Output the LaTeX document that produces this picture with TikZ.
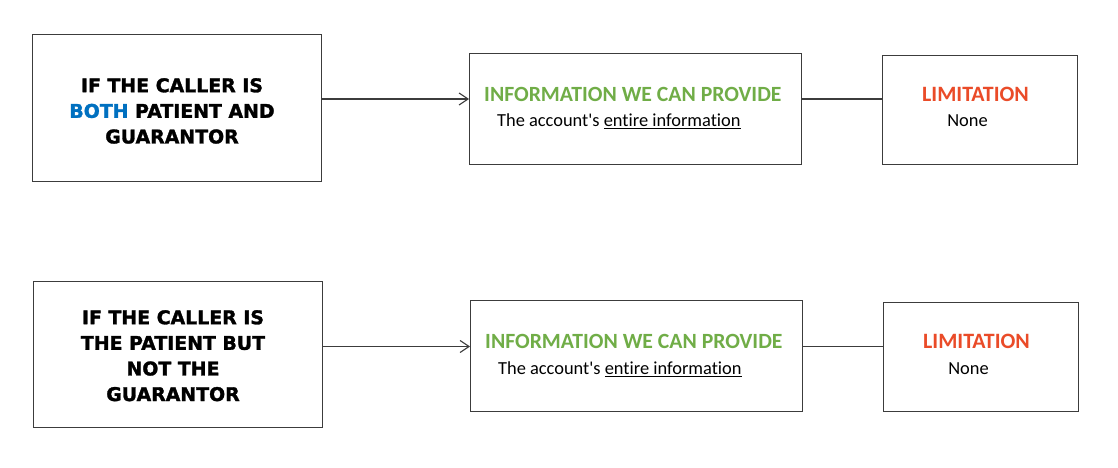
\documentclass[tikz,border=0pt]{standalone}
\usepackage{fontspec}
\setmainfont{Carlito}[Ligatures={NoCommon}]
\newfontfamily\headfont{DejaVu Sans}[BoldFeatures={FakeBold=1.6}]
\usetikzlibrary{arrows.meta}
\definecolor{boxline}{RGB}{60,60,60}
\definecolor{bothblue}{RGB}{0,112,192}
\definecolor{infogreen}{RGB}{112,173,71}
\definecolor{limred}{RGB}{234,75,40}
\begin{document}
\begin{tikzpicture}[x=1pt,y=-1pt,
  box/.style={draw=boxline,line width=1.4pt,fill=white,rectangle,inner sep=0pt,anchor=north west},
  lefttext/.style={align=center,inner sep=0pt,anchor=north,font=\headfont\bfseries\fontsize{18.9}{25.6}\selectfont},
  greentitle/.style={inner sep=0pt,anchor=base west,text=infogreen,font=\bfseries\fontsize{21.7}{24}\selectfont},
  redtitle/.style={inner sep=0pt,anchor=base,text=limred,font=\bfseries\fontsize{21.9}{24}\selectfont},
  bodytext/.style={inner sep=0pt,font=\fontsize{18.4}{22}\selectfont},
  conn/.style={draw=boxline,line width=1.1pt},
  arr/.style={conn,-{Straight Barb[length=9pt,width=12pt,line width=1.1pt]}}
]
\useasboundingbox (0,0) rectangle (1118,468);
% row 1
\node[box,minimum width=289pt,minimum height=147pt] (A1) at (32,34) {};
\node[box,minimum width=332pt,minimum height=111pt] (B1) at (469,53) {};
\node[box,minimum width=195pt,minimum height=109pt] (C1) at (882,55) {};
\coordinate (r1) at (0,99);
\draw[arr] (A1.east |- r1) -- (B1.west |- r1);
\draw[conn] (B1.east |- r1) -- (C1.west |- r1);
\node[lefttext] (A1t) at (172,78) {IF THE CALLER IS\\{\color{bothblue}BOTH} PATIENT AND\\GUARANTOR};
\node[greentitle] (B1h) at (484,101.5) {INFORMATION WE CAN PROVIDE};
\node[bodytext,anchor=base west] (B1b) at (497,126.5) {The account\textquotesingle s \underline{entire information}};
\node[redtitle] (C1h) at (975.5,101.5) {LIMITATION};
\node[bodytext,anchor=base] (C1b) at (967.5,126) {None};
% row 2
\node[box,minimum width=289pt,minimum height=146pt] (A2) at (33,281) {};
\node[box,minimum width=332pt,minimum height=111pt] (B2) at (470,300) {};
\node[box,minimum width=195pt,minimum height=109pt] (C2) at (883,302) {};
\coordinate (r2) at (0,346.5);
\draw[arr] (A2.east |- r2) -- (B2.west |- r2);
\draw[conn] (B2.east |- r2) -- (C2.west |- r2);
\node[lefttext] (A2t) at (173,310) {IF THE CALLER IS\\THE PATIENT BUT\\NOT THE\\GUARANTOR};
\node[greentitle] (B2h) at (485,348.5) {INFORMATION WE CAN PROVIDE};
\node[bodytext,anchor=base west] (B2b) at (498,374.5) {The account\textquotesingle s \underline{entire information}};
\node[redtitle] (C2h) at (976.5,348.5) {LIMITATION};
\node[bodytext,anchor=base] (C2b) at (968.5,374) {None};
\end{tikzpicture}
\end{document}
